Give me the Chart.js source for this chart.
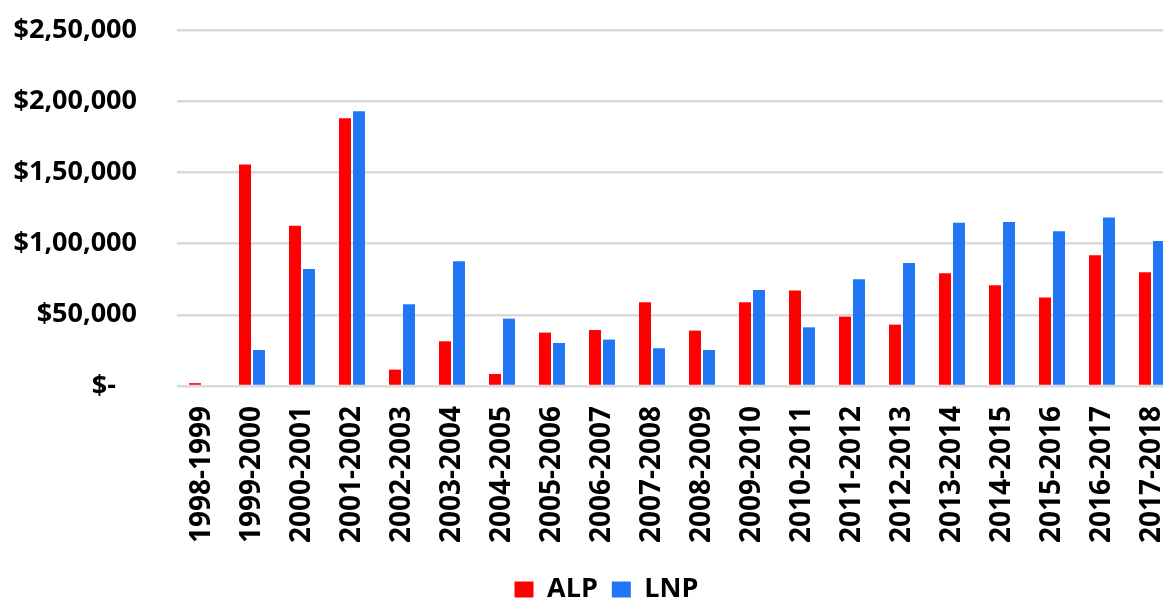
<!DOCTYPE html>
<html>
<head>
<meta charset="utf-8">
<script src="https://cdn.jsdelivr.net/npm/chart.js@4.4.1/dist/chart.umd.min.js"></script>
<style>
  html, body { margin: 0; padding: 0; background: #ffffff; overflow: hidden; }
  #wrap { position: relative; width: 1163px; height: 600px; overflow: hidden; }
</style>
</head>
<body>
<div id="wrap"><canvas id="c" width="1212" height="613"></canvas></div>
<script>
// Financial years
const years = [
  '1998-1999', '1999-2000', '2000-2001', '2001-2002', '2002-2003',
  '2003-2004', '2004-2005', '2005-2006', '2006-2007', '2007-2008',
  '2008-2009', '2009-2010', '2010-2011', '2011-2012', '2012-2013',
  '2013-2014', '2014-2015', '2015-2016', '2016-2017', '2017-2018'
];

// Amounts per party ($)
const alp = [
  2000, 155500, 112600, 188000, 11500,
  31400, 8400, 37500, 39300, 58800,
  38900, 58800, 67000, 48700, 43100,
  79100, 70700, 62100, 91800, 79800
];
const lnp = [
  0, 25300, 82200, 192900, 57400,
  87600, 47300, 30200, 32600, 26500,
  25300, 67400, 41200, 74900, 86400,
  114700, 115200, 108600, 118300, 101800
];

// Value axis labels, bottom to top
const yTickLabels = ['$-', '$50,000', '$1,00,000', '$1,50,000', '$2,00,000', '$2,50,000'];

const FONT = "'Open Sans', 'Liberation Sans', Arial, sans-serif";

// Nudge the legend block a little to the right of the layout centre
const legendShift = {
  id: 'legendShift',
  afterLayout(chart) {
    const l = chart.legend;
    if (l) { l.left += 18; l.right += 18; }
  }
};

new Chart(document.getElementById('c'), {
  type: 'bar',
  data: {
    labels: years,
    datasets: [
      { label: 'ALP', data: alp, backgroundColor: '#ff0000', borderWidth: 0 },
      { label: 'LNP', data: lnp, backgroundColor: '#2176f5', borderWidth: 0 }
    ]
  },
  plugins: [legendShift],
  options: {
    responsive: false,
    animation: false,
    layout: { padding: { top: 30, right: 35, bottom: 0, left: 0 } },
    datasets: {
      bar: { categoryPercentage: 0.56, barPercentage: 0.857 }
    },
    plugins: {
      legend: {
        position: 'bottom',
        labels: {
          boxWidth: 19,
          boxHeight: 16,
          padding: 14,
          color: '#000000',
          font: { family: FONT, size: 27, weight: 'bold' }
        }
      },
      tooltip: { enabled: false }
    },
    scales: {
      x: {
        grid: { display: false, drawTicks: false },
        border: { display: false },
        ticks: {
          color: '#000000',
          minRotation: 90,
          maxRotation: 90,
          autoSkip: false,
          padding: 20,
          font: { family: FONT, size: 28, weight: 'bold' }
        },
        afterFit: (s) => { s.height = 176; }
      },
      y: {
        min: 0,
        max: 250000,
        // invisible tick marks keep the labels clear of the plot area
        grid: { color: '#d9d9d9', lineWidth: 2.5, drawTicks: true, tickLength: 40, tickColor: 'rgba(0,0,0,0)' },
        border: { display: false },
        ticks: {
          stepSize: 50000,
          padding: 0,
          color: '#000000',
          font: { family: FONT, size: 27, weight: 'bold' },
          callback: (v, i) => i === 0 ? yTickLabels[i] + '   ' : yTickLabels[i]
        },
        afterFit: (s) => { s.width = 177; }
      }
    }
  }
});
</script>
</body>
</html>
